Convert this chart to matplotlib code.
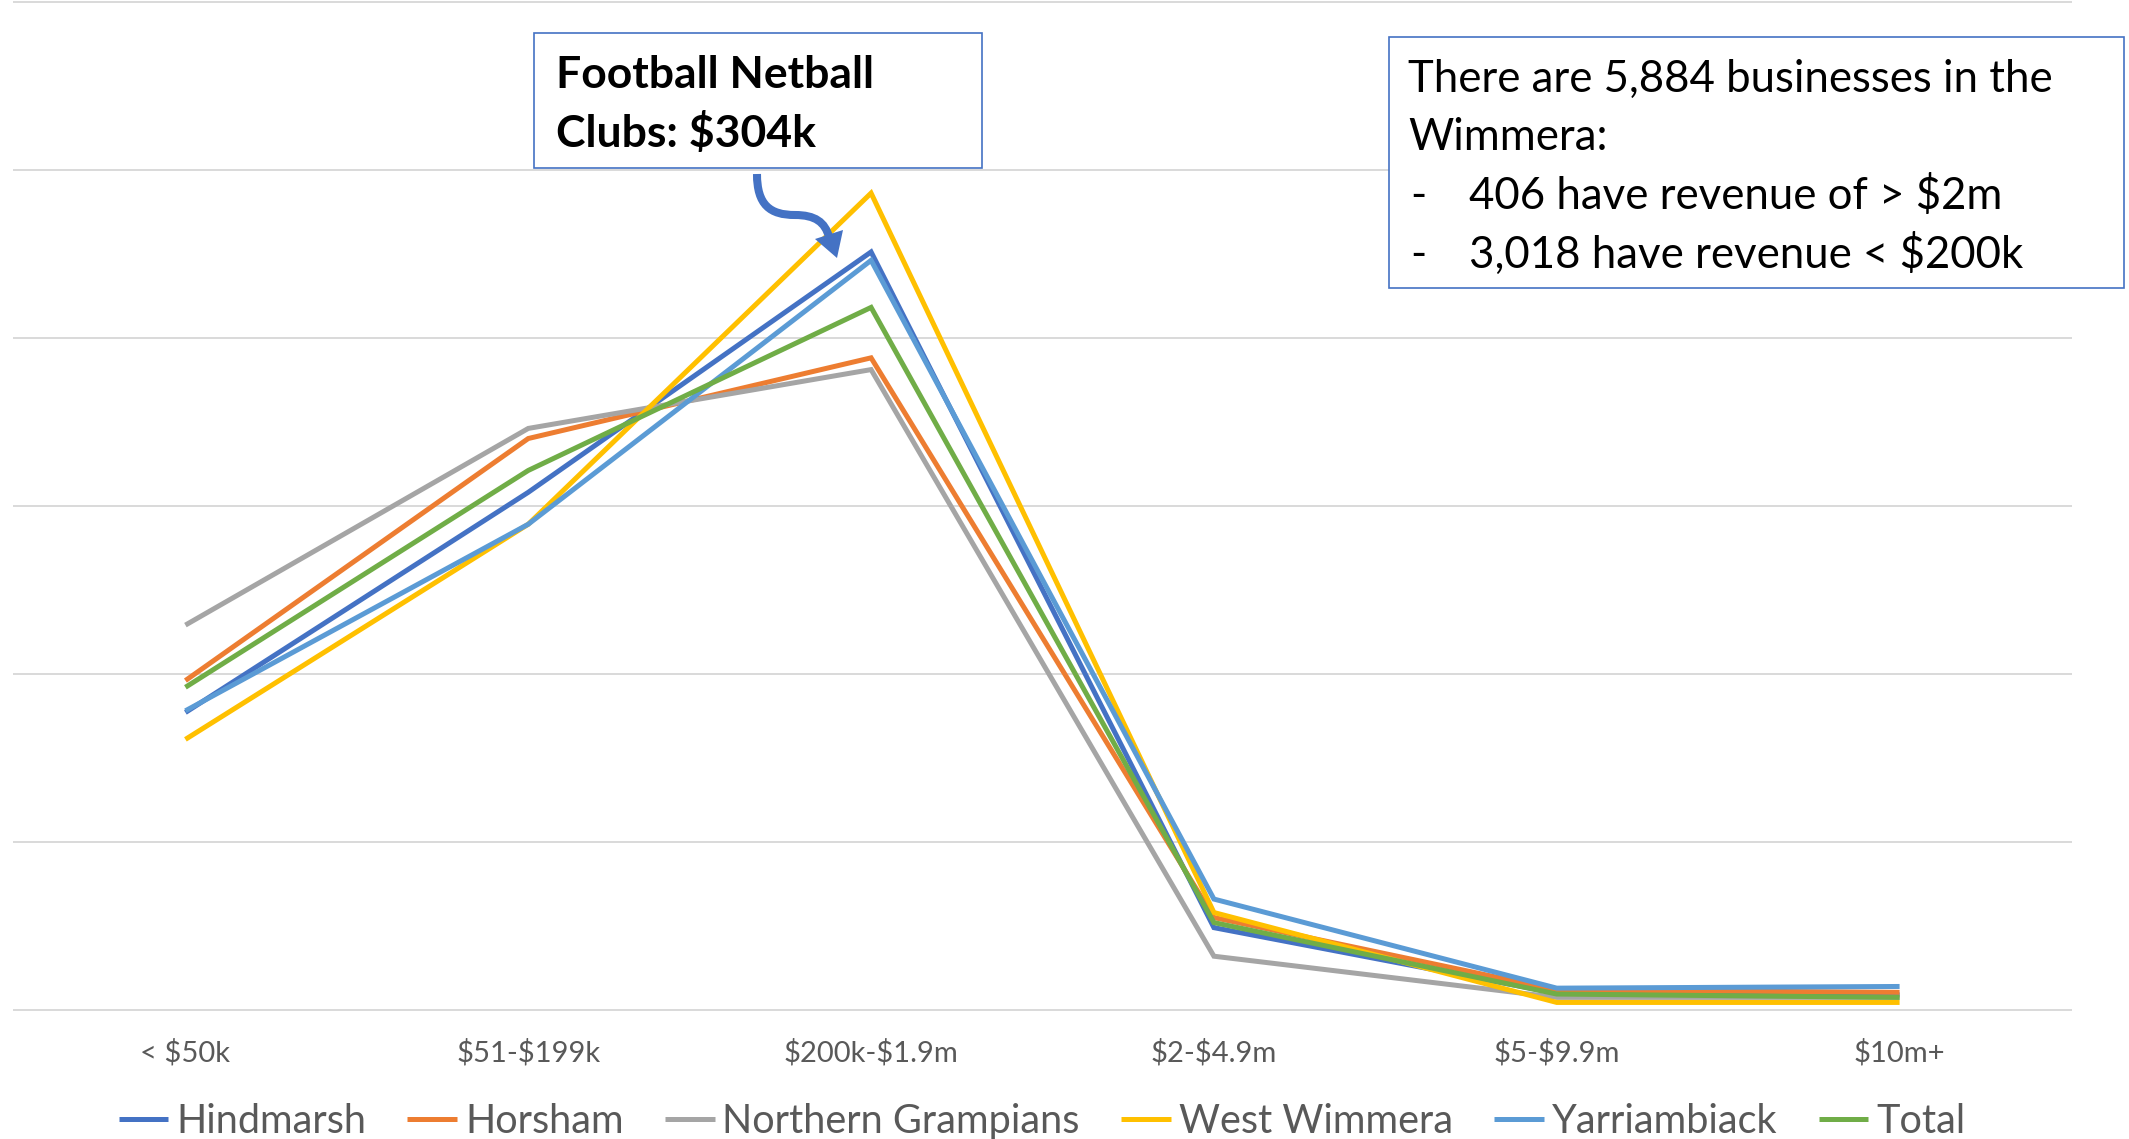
import matplotlib
matplotlib.use("Agg")
import matplotlib.pyplot as plt
from matplotlib.transforms import Affine2D
from matplotlib.patches import Rectangle, PathPatch, Polygon
from matplotlib.path import Path

# Share of businesses (%) in each revenue band, by local government area
categories = ["< $50k", "$51-$199k", "$200k-$1.9m", "$2-$4.9m", "$5-$9.9m", "$10m+"]
series_names = ["Hindmarsh", "Horsham", "Northern Grampians", "West Wimmera", "Yarriambiack", "Total"]
hindmarsh = [17.7, 30.8, 45.1, 4.9, 1.0, 0.9]
horsham = [19.6, 34.0, 38.8, 5.5, 1.2, 1.05]
northern_grampians = [22.9, 34.6, 38.1, 3.2, 0.75, 0.75]
west_wimmera = [16.1, 28.9, 48.6, 5.8, 0.45, 0.45]
yarriambiack = [17.8, 28.9, 44.6, 6.6, 1.3, 1.4]
total = [19.2, 32.1, 41.8, 5.2, 0.95, 0.75]
series_values = [hindmarsh, horsham, northern_grampians, west_wimmera, yarriambiack, total]
colors = ["#4472C4", "#ED7D31", "#A5A5A5", "#FFC000", "#5B9BD5", "#70AD47"]

W, H = 2129, 1139
plt.rcParams["font.family"] = ["Lato", "DejaVu Sans"]
plt.rcParams["text.parse_math"] = False

fig = plt.figure(figsize=(W / 100, H / 100), dpi=100)
ax = fig.add_axes([14 / W, 1 - 1010 / H, (2071 - 14) / W, (1010 - 1.5) / H])
# pixel coordinates measured from the top-left corner of the figure
pix = Affine2D().scale(1 / W, -1 / H).translate(0, 1) + fig.transFigure

x = list(range(len(categories)))
for name, vals, col in zip(series_names, series_values, colors):
    ax.plot(x, vals, color=col, lw=3.6, label=name, solid_joinstyle="miter",
            solid_capstyle="butt")

ax.set_xlim(-0.5, len(categories) - 0.5)
ax.set_ylim(0, 60)
ax.set_yticks(range(0, 61, 10))
ax.yaxis.grid(True, color="#D9D9D9", lw=1.4)
ax.set_axisbelow(True)
for gl in ax.get_ygridlines():
    gl.set_clip_on(False)
ax.tick_params(axis="y", length=0, labelleft=False)
ax.set_xticks(x)
ax.set_xticklabels(categories)
ax.tick_params(axis="x", length=0, pad=21, labelsize=21, labelcolor="#595959")
for s in ax.spines.values():
    s.set_visible(False)

leg = fig.legend(loc="center", bbox_to_anchor=(1042 / W, 1 - 1121.5 / H), ncol=6,
                 frameon=False, fontsize=28.5, handlelength=1.25, handletextpad=0.2,
                 columnspacing=1.05, borderpad=0, labelcolor="#595959")
for h in leg.get_lines():
    h.set_linewidth(3.6)

# Callout: football netball clubs
fig.patches.append(Rectangle((534, 33), 982 - 534, 168 - 33, transform=pix,
                             fill=True, facecolor="white", edgecolor="#4472C4", lw=1.2))
fig.text(556, 88, "Football Netball", transform=pix, fontsize=32, fontweight="bold",
         color="black", va="baseline", ha="left")
fig.text(556, 147, "Clubs: $304k", transform=pix, fontsize=32, fontweight="bold",
         color="black", va="baseline", ha="left")

# Curved arrow pointing to the peak
verts = [(757, 174), (757, 205), (770, 215), (795, 215),
         (815, 215), (825, 222), (829, 237)]
codes = [Path.MOVETO, Path.CURVE4, Path.CURVE4, Path.CURVE4,
         Path.CURVE4, Path.CURVE4, Path.CURVE4]
fig.patches.append(PathPatch(Path(verts, codes), transform=pix, facecolor="none",
                             edgecolor="#4472C4", lw=5.8, capstyle="butt"))
fig.patches.append(Polygon([(815, 239), (843, 230), (837, 258)], closed=True,
                           transform=pix, facecolor="#4472C4", edgecolor="none"))

# Summary box
fig.patches.append(Rectangle((1389, 37), 2124 - 1389, 288 - 37, transform=pix,
                             fill=True, facecolor="white", edgecolor="#4472C4", lw=1.2))
box_lines = [("", "There are 5,884 businesses in the"),
             ("", "Wimmera:"),
             ("-", "406 have revenue of > $2m"),
             ("-", "3,018 have revenue < $200k")]
baselines = [92, 150.5, 209, 267.5]
for (dash, txt), yb in zip(box_lines, baselines):
    if dash:
        fig.text(1410, yb, dash, transform=pix, fontsize=31.5, color="black", va="baseline")
        fig.text(1469, yb, txt, transform=pix, fontsize=31.5, color="black", va="baseline")
    else:
        fig.text(1408, yb, txt, transform=pix, fontsize=31.5, color="black", va="baseline")

fig.savefig("out.png", dpi=100, facecolor="white")
